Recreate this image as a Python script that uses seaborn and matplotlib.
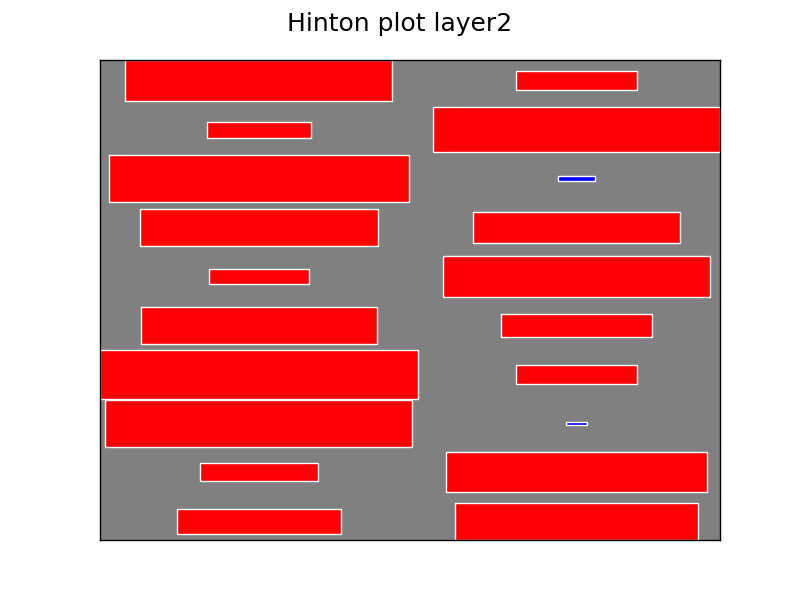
import numpy as np
import matplotlib
matplotlib.use("Agg")
import matplotlib.pyplot as plt
import seaborn as sns

# weights of layer2 (rows top to bottom), two output units
col_left = [0.707, 0.108, 0.893, 0.563, 0.099, 0.552, 1.0, 0.935, 0.138, 0.267]
col_right = [0.145, 0.817, -0.0137, 0.425, 0.707, 0.227, 0.145, -0.0044, 0.676, 0.585]
title = "Hinton plot layer2"

weights = np.array([col_left, col_right])  # shape (2, 10)
max_weight = np.abs(weights).max()

sns.set_style("white")
plt.rcParams["font.family"] = ["DejaVu Sans"]

fig, ax = plt.subplots(figsize=(8, 6), dpi=100)
fig.subplots_adjust(left=0.125, right=0.9, bottom=0.1, top=0.9)
ax.set_facecolor("gray")

xmin, xmax, ymin, ymax = np.inf, -np.inf, np.inf, -np.inf
for (x, y), w in np.ndenumerate(weights):
    size = np.sqrt(abs(w) / max_weight)
    color = "red" if w > 0 else "blue"
    rect = plt.Rectangle((x - size / 2, y - size / 2), size, size,
                         facecolor=color, edgecolor="white", linewidth=1)
    ax.add_patch(rect)
    xmin, xmax = min(xmin, x - size / 2), max(xmax, x + size / 2)
    ymin, ymax = min(ymin, y - size / 2), max(ymax, y + size / 2)

ax.set_xlim(xmin, xmax)
ax.set_ylim(ymax, ymin)
ax.set_xticks([])
ax.set_yticks([])
for sp in ax.spines.values():
    sp.set_visible(True)
    sp.set_color("black")
    sp.set_linewidth(1)
fig.suptitle(title, fontsize=18, color="black")

plt.savefig("out.png", dpi=100)
